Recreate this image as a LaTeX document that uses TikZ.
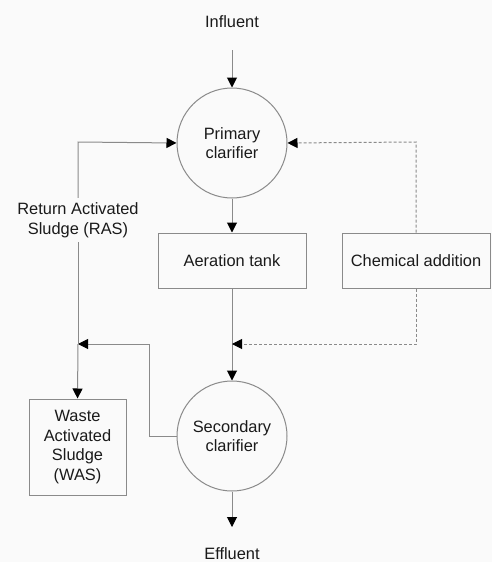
\documentclass[tikz,border=0pt]{standalone}
\usepackage{fontspec}
\setmainfont{Liberation Sans}
\usetikzlibrary{arrows.meta}
\definecolor{ln}{HTML}{8A8A8A}
\definecolor{tx}{HTML}{1A1A1A}
\definecolor{bg}{HTML}{FAFAFA}
\begin{document}
\begin{tikzpicture}[x=1pt,y=-1pt,
  every node/.style={font=\fontsize{16.4}{19.6}\selectfont, text=tx},
  conn/.style={draw=ln, line width=1pt},
  arr/.style={conn, -{Triangle[length=10pt,width=10pt,color=black]}},
  dashline/.style={draw=ln, line width=1pt, dash pattern=on 3pt off 2pt},
  darr/.style={dashline, -{Triangle[length=10pt,width=10pt,color=black]}},
  clar/.style={circle, draw=ln, line width=1pt, minimum size=110pt, inner sep=0pt, align=center},
  box/.style={rectangle, draw=ln, line width=1pt, align=center, inner sep=0pt}]
\fill[bg] (0,0) rectangle (492,562);
\useasboundingbox (0,0) rectangle (492,562);
\node (inf) at (232,22) {Influent};
\coordinate (inftop) at (232,50);
\node[clar] (prim) at (232,143) {Primary\\clarifier};
\node[box, minimum width=148pt, minimum height=55pt] (aer) at (232,260.5) {Aeration tank};
\node[box, minimum width=148pt, minimum height=55pt] (chem) at (416,260.5) {Chemical addition};
\node[clar] (sec) at (232,436) {Secondary\\clarifier};
\node[box, minimum width=97pt, minimum height=96pt] (was) at (77.5,447) {Waste\\Activated\\Sludge\\(WAS)};
\node[inner sep=0pt, minimum height=44pt, align=center] (ras) at (78,220) {Return Activated\\Sludge (RAS)};
\node (eff) at (232,554) {Effluent};
\coordinate (efftip) at (232,527);
\coordinate (jl) at (78,344);
\coordinate (jc) at (232,344);
\coordinate (rtop) at (78,142);
\coordinate (ctop) at (416,142);
\coordinate (kink) at (149,344);
% main flow
\draw[arr] (inftop) -- (prim.north);
\draw[arr] (prim.south) -- (aer.north);
\draw[arr] (aer.south) -- (sec.north);
\draw[arr] (sec.south) -- (efftip);
% return sludge
\draw[conn] (sec.west) -| (kink);
\draw[arr] (kink) -- (jl);
\draw[conn] (jl) -- (ras.south);
\draw[arr] (ras.north) -- (rtop) -- (prim.west);
\draw[arr] (jl) -- (was.north);
% chemical addition
\draw[darr] (chem.north) -- (ctop) -- (prim.east);
\draw[darr] (chem.south) |- (jc);
\end{tikzpicture}
\end{document}
